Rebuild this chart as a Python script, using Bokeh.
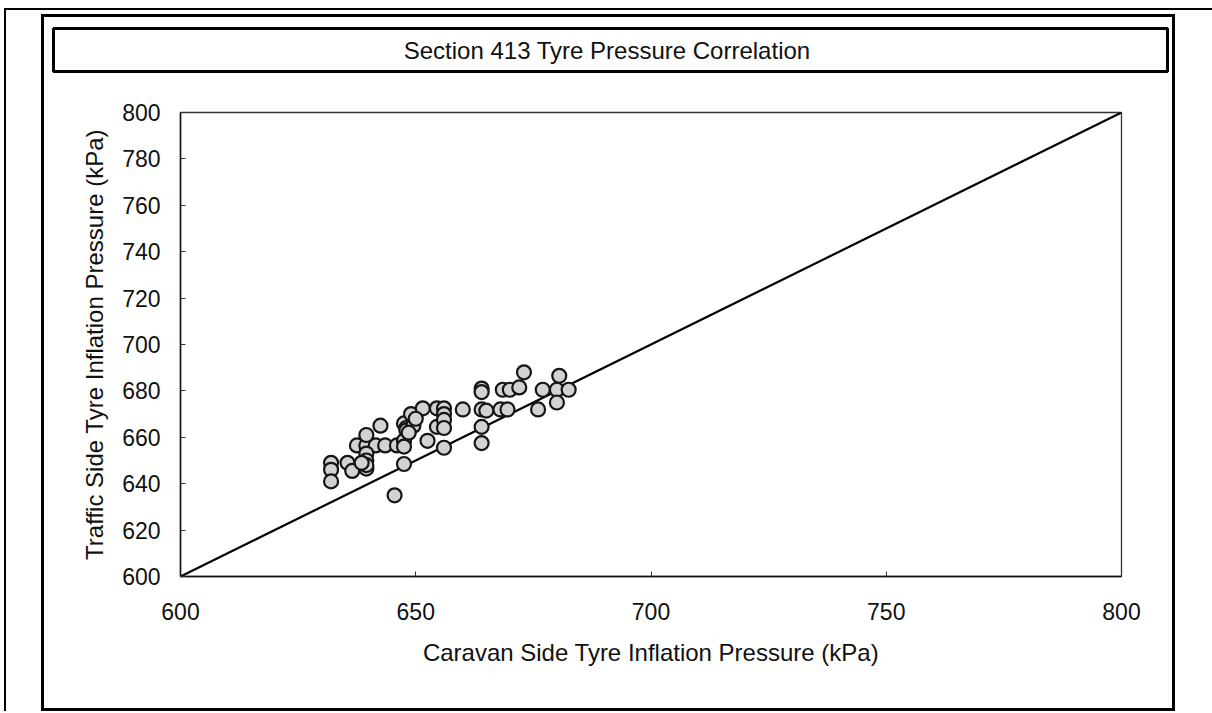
from bokeh.plotting import figure
from bokeh.layouts import column
from bokeh.models import Range1d, FixedTicker
from bokeh.core.properties import value
from bokeh.embed import file_html
from bokeh.resources import INLINE

# ---- data ----
caravan_kpa = [632, 632, 632, 635.5, 636.5, 637.5, 639.5, 641.5, 643.5, 646,
               639.5, 639.5, 639.5, 639.5, 639.5, 638.5, 642.5, 645.5, 647.5, 647.5,
               648, 648, 647.5, 647.5, 649, 649.5, 651.5, 652.5, 654.5, 654.5,
               656, 656, 656, 656, 656, 660, 664, 664, 664, 665,
               664, 664, 668.5, 670, 672, 673, 668, 669.5, 676, 677,
               680.5, 680, 680, 682.5, 648.5, 650]
traffic_kpa = [649, 646, 641, 649, 645.5, 656.5, 656.5, 656.5, 656.5, 656.5,
               661, 653, 650, 646.5, 648, 649, 665, 635, 648.5, 666,
               664, 663, 658.5, 656, 670, 665, 672.5, 658.5, 672.5, 664.5,
               672.5, 670, 667.5, 664, 655.5, 672, 681, 679.5, 672, 671.5,
               664.5, 657.5, 680.5, 680.5, 681.5, 688, 672, 672, 672, 680.5,
               686.5, 680.5, 675, 680.5, 662, 668]
equality_x = [600, 800]
equality_y = [600, 800]
x_ticks = [600, 650, 700, 750, 800]
y_ticks = [600, 620, 640, 660, 680, 700, 720, 740, 760, 780, 800]

title_text = "Section 413 Tyre Pressure Correlation"
x_title = "Caravan Side Tyre Inflation Pressure (kPa)"
y_title = "Traffic Side Tyre Inflation Pressure (kPa)"

FONT = "Liberation Sans"
W = 1128
TH = 58
PH = 633

# ---- title strip: its frame outline is the title box ----
t = figure(width=W, height=TH, output_backend="svg", toolbar_location=None,
           x_range=Range1d(0, 1), y_range=Range1d(0, 1),
           x_axis_location=None, y_axis_location=None,
           min_border_left=9, min_border_right=5, min_border_top=11, min_border_bottom=4)
t.frame_align = False
t.grid.visible = False
t.background_fill_color = "white"
t.border_fill_color = "white"
t.outline_line_color = "black"
t.outline_line_width = 3
t.text(x=[0.497], y=[0.5], text=[title_text], text_align="center", text_baseline="middle",
       text_font=value(FONT), text_font_size="24px", text_color="#111111")

# ---- main scatter chart ----
p = figure(width=W, height=PH, output_backend="svg", toolbar_location=None,
           x_range=Range1d(600, 800), y_range=Range1d(600, 800),
           min_border_left=136, min_border_right=51,
           min_border_top=37, min_border_bottom=132)
p.frame_align = False

p.background_fill_color = "white"
p.border_fill_color = "white"
p.outline_line_color = "#333333"
p.outline_line_width = 1.3
p.xgrid.visible = False
p.ygrid.visible = False

for ax, ticks in ((p.xaxis, x_ticks), (p.yaxis, y_ticks)):
    ax.ticker = FixedTicker(ticks=ticks)
    ax.axis_line_color = "#111111"
    ax.axis_line_width = 1.5
    ax.major_tick_in = 5
    ax.major_tick_out = 0
    ax.major_tick_line_color = "#333333"
    ax.minor_tick_line_color = None
    ax.major_label_text_font = FONT
    ax.major_label_text_font_size = "23px"
    ax.major_label_text_color = "#111111"
    ax.axis_label_text_font = FONT
    ax.axis_label_text_font_size = "24px"
    ax.axis_label_text_font_style = "normal"
    ax.axis_label_text_color = "#111111"

p.xaxis.axis_label = x_title
p.yaxis.axis_label = y_title
p.xaxis.major_label_standoff = 26
p.xaxis.axis_label_standoff = 16
p.yaxis.major_label_standoff = 20
p.yaxis.axis_label_standoff = 11

p.line(equality_x, equality_y, line_color="black", line_width=2.2)
p.scatter(caravan_kpa, traffic_kpa, size=14, marker="circle",
          fill_color="#d0d3d2", line_color="#151515", line_width=2.2)

chart = column(t, p, spacing=0)
chart.margin = (4, 37, 0, 35)
chart.styles = {"border": "3px solid black", "background-color": "white"}

page = column(chart, spacing=0)
page.margin = (8, 0, 0, 4)
page.styles = {"border-left": "2px solid black", "border-top": "2px solid black",
               "border-right": "2px solid black", "background-color": "white"}

open("out.html", "w").write(file_html(page, INLINE))
